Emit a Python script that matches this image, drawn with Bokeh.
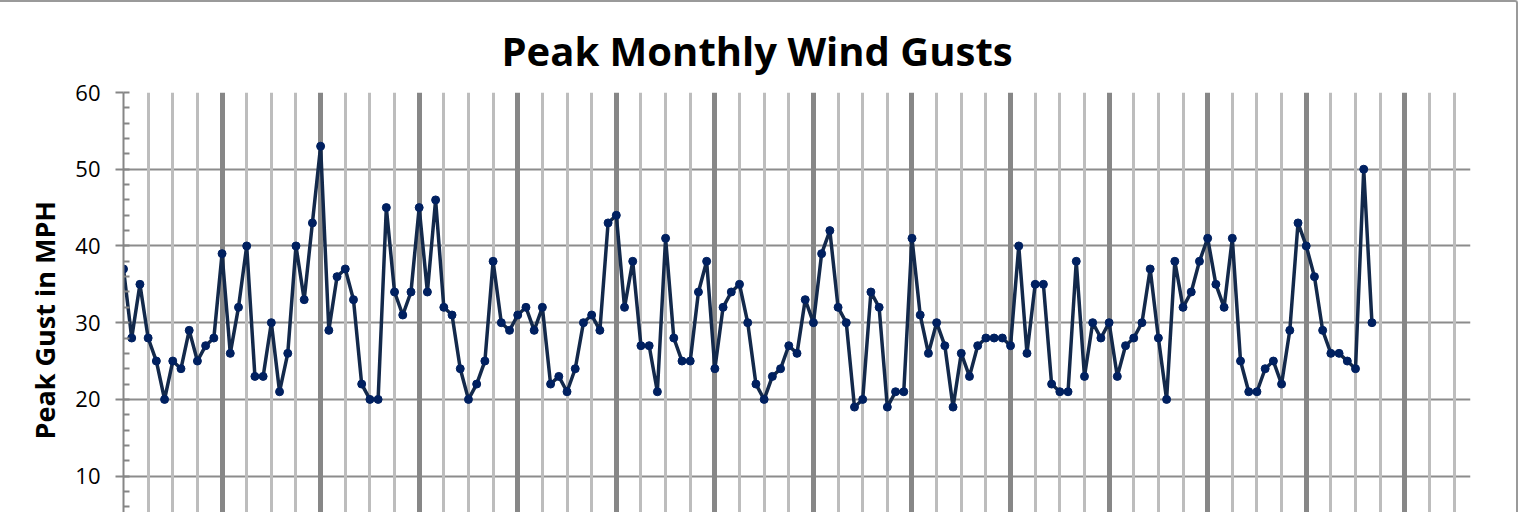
import math
from bokeh.plotting import figure
from bokeh.models import (ColumnDataSource, Range1d, Grid, FixedTicker,
                          SingleIntervalTicker, Title)
from bokeh.embed import file_html
from bokeh.resources import INLINE

# ---- data -------------------------------------------------------------
title_text = "Peak Monthly Wind Gusts"
y_label = "Peak Gust in MPH"

gusts = [
    37, 28, 35, 28, 25, 20, 25, 24, 29, 25, 27, 28,
    39, 26, 32, 40, 23, 23, 30, 21, 26, 40, 33, 43,
    53, 29, 36, 37, 33, 22, 20, 20, 45, 34, 31, 34,
    45, 34, 46, 32, 31, 24, 20, 22, 25, 38, 30, 29,
    31, 32, 29, 32, 22, 23, 21, 24, 30, 31, 29, 43,
    44, 32, 38, 27, 27, 21, 41, 28, 25, 25, 34, 38,
    24, 32, 34, 35, 30, 22, 20, 23, 24, 27, 26, 33,
    30, 39, 42, 32, 30, 19, 20, 34, 32, 19, 21, 21,
    41, 31, 26, 30, 27, 19, 26, 23, 27, 28, 28, 28,
    27, 40, 26, 35, 35, 22, 21, 21, 38, 23, 30, 28,
    30, 23, 27, 28, 30, 37, 28, 20, 38, 32, 34, 38,
    41, 35, 32, 41, 25, 21, 21, 24, 25, 22, 29, 43,
    40, 36, 29, 26, 26, 25, 24, 50, 30,
]
months = list(range(len(gusts)))          # month index from the first month
n_months_axis = 164                        # extent of the category axis
quarter_ticks = [m for m in range(3, n_months_axis, 3) if m % 12 != 0]
year_ticks = [m for m in range(12, n_months_axis, 12)]

source = ColumnDataSource(data=dict(month=months, gust=gusts))

# ---- figure -----------------------------------------------------------
p = figure(width=1522, height=512, output_backend="svg", toolbar_location=None,
           x_range=Range1d(0, n_months_axis), y_range=Range1d(5.0, 60),
           min_border_left=125, min_border_right=50, min_border_top=90,
           min_border_bottom=0)
p.styles = {"border-top": "2px solid #9a9a9a", "border-left": "2px solid #9a9a9a",
            "border-right": "2px solid #9a9a9a", "border-top-left-radius": "3px",
            "border-top-right-radius": "3px", "margin-left": "-4px"}
p.outline_line_color = None
p.background_fill_color = "white"
p.border_fill_color = "white"

p.title.text = title_text
p.title.text_font = "Open Sans"
p.title.text_font_style = "bold"
p.title.text_font_size = "40px"
p.title.text_color = "black"
p.title.align = "left"
p.title.offset = 378
p.title.standoff = 30

p.xaxis.visible = False
p.xgrid.grid_line_color = None

ax = p.yaxis[0]
ax.ticker = SingleIntervalTicker(interval=10, num_minor_ticks=5)
ax.axis_line_color = "#868686"
ax.axis_line_width = 2
ax.major_tick_line_color = "#868686"
ax.major_tick_line_width = 2
ax.major_tick_out = 8
ax.major_tick_in = 0
ax.minor_tick_line_color = "#868686"
ax.minor_tick_line_width = 2
ax.minor_tick_in = 6
ax.minor_tick_out = 0
ax.major_label_text_font = "Open Sans"
ax.major_label_text_font_size = "22px"
ax.major_label_text_color = "black"
ax.major_label_standoff = 15

p.ygrid.grid_line_color = "#8c8c8c"
p.ygrid.grid_line_width = 2

thin = Grid(dimension=0, ticker=FixedTicker(ticks=quarter_ticks),
            grid_line_color="#bdbdbd", grid_line_width=3)
thick = Grid(dimension=0, ticker=FixedTicker(ticks=year_ticks),
             grid_line_color="#878787", grid_line_width=5)
p.add_layout(thin)
p.add_layout(thick)

p.line("month", "gust", source=source, line_color="#13294b", line_width=3.5)
p.scatter("month", "gust", source=source, size=8, fill_color="#002060",
          line_color="#002060")

ytitle = Title(text=y_label, align="left", offset=75, vertical_align="bottom",
               standoff=20, text_font="Open Sans", text_font_style="bold",
               text_font_size="27px", text_color="black")
p.add_layout(ytitle, "left")

open("out.html", "w").write(file_html(p, INLINE))
